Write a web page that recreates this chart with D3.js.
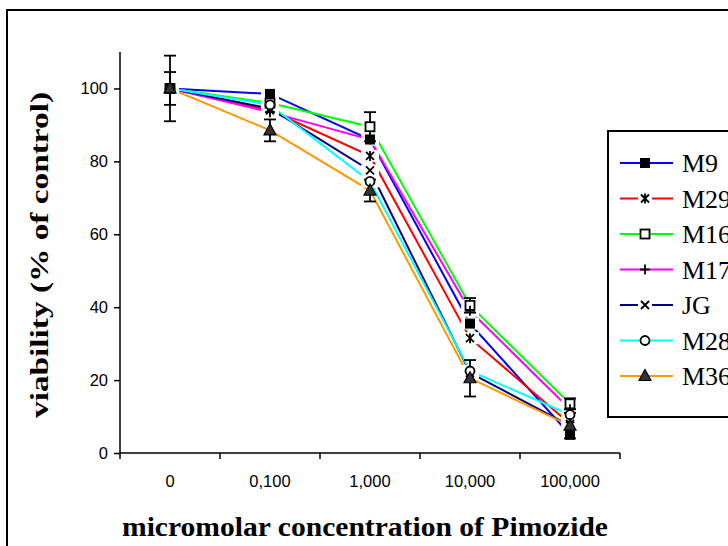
<!DOCTYPE html>
<html>
<head>
<meta charset="utf-8">
<script src="https://cdn.jsdelivr.net/npm/d3@7"></script>
<style>
  html, body { margin: 0; padding: 0; background: #fff; }
  svg { display: block; }
</style>
</head>
<body>
<svg id="chart" width="728" height="546"></svg>
<script>
// Pimozide dose-response: viability (% of control) per cell line
const concentrations = ["0", "0,100", "1,000", "10,000", "100,000"];
const seriesNames = ["M9", "M29", "M16", "M17", "JG", "M28", "M36"];
const M9  = [100, 98.5, 86, 35.5, 5];
const M29 = [100, 94, 81.5, 31.5, 8];
const M16 = [100, 96, 89.5, 40.5, 13.5];
const M17 = [100, 93.5, 86, 39, 12];
const JG  = [100, 94.5, 77.5, 22, 7.5];
const M28 = [100, 95.5, 74.5, 22.5, 10.5];
const M36 = [100, 88.5, 72, 20.5, 7.5];
// error bar half-widths (only shown for two series)
const M16err = [9, 0, 4, 2, 1.5];
const M36err = [4.5, 3, 3, 5, 3.5];
const yTicks = [0, 20, 40, 60, 80, 100];

const seriesValues = [M9, M29, M16, M17, JG, M28, M36];
const seriesErrors = [null, null, M16err, null, null, null, M36err];
const seriesColors = ["#0000FF", "#FF0000", "#00FF00", "#FF00FF", "#000080", "#00FFFF", "#FF9900"];
const seriesMarkers = ["fsquare", "asterisk", "osquare", "plus", "cross", "circle", "triangle"];

const svg = d3.select("#chart");
const serif = "'Liberation Serif', 'Times New Roman', serif";
const sans = "'Liberation Sans', Arial, sans-serif";

// outer chart-area frame (runs off the right and bottom edges)
svg.append("rect")
  .attr("x", 7).attr("y", 10).attr("width", 760).attr("height", 580)
  .attr("fill", "none").attr("stroke", "#000").attr("stroke-width", 2);

const plot = { left: 120, right: 620, top: 52, bottom: 453 };

const x = d3.scaleBand().domain(concentrations).range([plot.left, plot.right]);
const y = d3.scaleLinear().domain([0, 110]).range([plot.bottom, plot.top]);
const cx = c => x(c) + x.bandwidth() / 2;

// axes
const yAxis = svg.append("g")
  .attr("transform", `translate(${plot.left},0)`)
  .call(d3.axisLeft(y).tickValues(yTicks).tickSize(6).tickPadding(6).tickSizeOuter(0));
yAxis.select(".domain").remove();
svg.append("line")
  .attr("x1", plot.left).attr("x2", plot.left)
  .attr("y1", plot.top).attr("y2", plot.bottom)
  .attr("stroke", "#000").attr("stroke-width", 1.5);

const xAxis = svg.append("g")
  .attr("transform", `translate(0,${plot.bottom})`)
  .call(d3.axisBottom(x).tickSize(0).tickPadding(22));
xAxis.select(".domain").remove();
svg.append("line")
  .attr("x1", plot.left).attr("x2", plot.right)
  .attr("y1", plot.bottom).attr("y2", plot.bottom)
  .attr("stroke", "#000").attr("stroke-width", 1.5);
// category boundary ticks
const bounds = concentrations.map(c => x(c)).concat([plot.right]);
svg.append("g").selectAll("line").data(bounds).join("line")
  .attr("x1", d => d).attr("x2", d => d)
  .attr("y1", plot.bottom).attr("y2", plot.bottom + 6)
  .attr("stroke", "#000").attr("stroke-width", 1.5);

[yAxis, xAxis].forEach(g => {
  g.selectAll("text").attr("font-family", sans)
    .attr("font-size", 16.5).attr("fill", "#000");
  g.selectAll("line").attr("stroke", "#000").attr("stroke-width", 1.5);
});

// axis titles
svg.append("text")
  .attr("x", 365).attr("y", 536)
  .attr("text-anchor", "middle")
  .attr("font-family", serif)
  .attr("font-weight", "bold").attr("font-size", 27)
  .attr("textLength", 486).attr("lengthAdjust", "spacingAndGlyphs")
  .text("micromolar concentration of Pimozide");
svg.append("text")
  .attr("transform", "translate(48,255) rotate(-90)")
  .attr("text-anchor", "middle")
  .attr("font-family", serif)
  .attr("font-weight", "bold").attr("font-size", 25)
  .attr("textLength", 326).attr("lengthAdjust", "spacingAndGlyphs")
  .text("viability (% of control)");

// marker drawing
function drawMarker(g, type, px, py) {
  const s = 4.5;
  if (type === "fsquare") {
    g.append("rect").attr("x", px - s).attr("y", py - s).attr("width", 2 * s).attr("height", 2 * s)
      .attr("fill", "#000").attr("stroke", "#000").attr("stroke-width", 1);
  } else if (type === "osquare") {
    g.append("rect").attr("x", px - s).attr("y", py - s).attr("width", 2 * s).attr("height", 2 * s)
      .attr("fill", "#fff").attr("stroke", "#000").attr("stroke-width", 1.8);
  } else if (type === "circle") {
    g.append("circle").attr("cx", px).attr("cy", py).attr("r", s)
      .attr("fill", "#fff").attr("stroke", "#000").attr("stroke-width", 1.8);
  } else if (type === "triangle") {
    g.append("path")
      .attr("d", `M${px},${py - 6.5}L${px + 6},${py + 4.5}L${px - 6},${py + 4.5}Z`)
      .attr("fill", "#333").attr("stroke", "#000").attr("stroke-width", 1.2);
  } else if (type === "plus") {
    g.append("path").attr("d", `M${px - 5},${py}H${px + 5}M${px},${py - 5}V${py + 5}`)
      .attr("stroke", "#000").attr("stroke-width", 1.8);
  } else if (type === "cross") {
    g.append("path").attr("d", `M${px - 4},${py - 4}L${px + 4},${py + 4}M${px - 4},${py + 4}L${px + 4},${py - 4}`)
      .attr("stroke", "#000").attr("stroke-width", 1.8);
  } else if (type === "asterisk") {
    g.append("path").attr("d", `M${px - 4},${py - 4}L${px + 4},${py + 4}M${px - 4},${py + 4}L${px + 4},${py - 4}M${px},${py - 5}V${py + 5}`)
      .attr("stroke", "#000").attr("stroke-width", 1.8);
  }
}

const line = d3.line().x((d, i) => cx(concentrations[i])).y(d => y(d));

// series lines
const linesG = svg.append("g");
seriesValues.forEach((vals, k) => {
  linesG.append("path").datum(vals)
    .attr("d", line)
    .attr("fill", "none")
    .attr("stroke", seriesColors[k])
    .attr("stroke-width", 2);
});

// white marker backgrounds that interrupt the lines around each point
const bgG = svg.append("g");
seriesValues.forEach((vals, k) => {
  if (seriesMarkers[k] === "triangle") return;
  vals.forEach((v, i) => {
    bgG.append("rect")
      .attr("x", cx(concentrations[i]) - 9).attr("y", y(v) - 6)
      .attr("width", 18).attr("height", 12)
      .attr("fill", "#fff");
  });
});

// error bars
const errG = svg.append("g").attr("stroke", "#000").attr("stroke-width", 1.8);
seriesValues.forEach((vals, k) => {
  const errs = seriesErrors[k];
  if (!errs) return;
  vals.forEach((v, i) => {
    if (!errs[i]) return;
    const px = cx(concentrations[i]);
    const top = y(v + errs[i]), bot = y(v - errs[i]);
    errG.append("line").attr("x1", px).attr("x2", px).attr("y1", top).attr("y2", bot);
    errG.append("line").attr("x1", px - 6).attr("x2", px + 6).attr("y1", top).attr("y2", top);
    errG.append("line").attr("x1", px - 6).attr("x2", px + 6).attr("y1", bot).attr("y2", bot);
  });
});

// markers
const markG = svg.append("g");
seriesValues.forEach((vals, k) => {
  vals.forEach((v, i) => drawMarker(markG, seriesMarkers[k], cx(concentrations[i]), y(v)));
});

// legend
const legend = svg.append("g");
legend.append("rect")
  .attr("x", 608).attr("y", 131).attr("width", 160).attr("height", 286)
  .attr("fill", "#fff").attr("stroke", "#000").attr("stroke-width", 2);
const legendY = d3.scalePoint().domain(seriesNames).range([163, 376]);
seriesNames.forEach((name, k) => {
  const ly = legendY(name);
  const gapped = seriesMarkers[k] === "asterisk" || seriesMarkers[k] === "cross";
  if (gapped) {
    legend.append("line").attr("x1", 620).attr("x2", 638).attr("y1", ly).attr("y2", ly)
      .attr("stroke", seriesColors[k]).attr("stroke-width", 2);
    legend.append("line").attr("x1", 652).attr("x2", 673).attr("y1", ly).attr("y2", ly)
      .attr("stroke", seriesColors[k]).attr("stroke-width", 2);
  } else {
    legend.append("line").attr("x1", 620).attr("x2", 673).attr("y1", ly).attr("y2", ly)
      .attr("stroke", seriesColors[k]).attr("stroke-width", 2);
  }
  drawMarker(legend, seriesMarkers[k], 645, ly);
  legend.append("text")
    .attr("x", 682).attr("y", ly + 9)
    .attr("font-family", serif)
    .attr("font-size", 26)
    .text(name);
});
</script>
</body>
</html>
